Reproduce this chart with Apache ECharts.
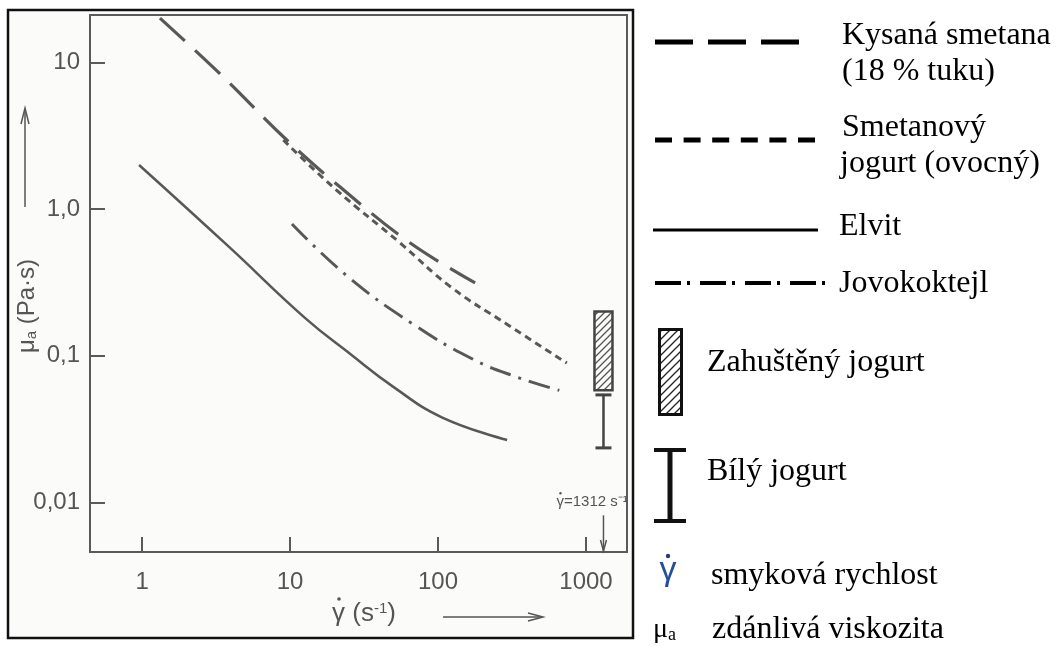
<!DOCTYPE html>
<html><head><meta charset="utf-8">
<script src="https://cdn.jsdelivr.net/npm/echarts@6/dist/echarts.min.js"></script>
<style>html,body{margin:0;padding:0;background:#fff}#c{width:1056px;height:646px}</style>
</head><body><div id="c"></div>
<script>
// ---- data ----
const xTickLabels = ['1', '10', '100', '1000'];      // 10^0 .. 10^3
const yTickLabels = ['0,01', '0,1', '1,0', '10'];    // 10^-2 .. 10^1
const kysanaX = [1.32, 3.42, 9.5, 21.8, 64.9, 178];
const kysanaY = [20, 8.2, 2.95, 1.41, 0.586, 0.313];
const smetanovyX = [9, 20.5, 55, 122, 297, 742];
const smetanovyY = [2.95, 1.35, 0.59, 0.294, 0.162, 0.089];
const elvitX = [0.954, 3.87, 12.6, 25.4, 49.6, 106, 293];
const elvitY = [1.995, 0.551, 0.181, 0.103, 0.0615, 0.038, 0.0266];
const jovoX = [10.3, 24.7, 69, 167, 338, 660];
const jovoY = [0.79, 0.344, 0.162, 0.096, 0.0716, 0.058];
const shearRate = 1312;
const zahustenyRange = [0.058, 0.2];
const bilyRange = [0.0235, 0.054];
const annotLevel = 0.01;

const pairs = (xs, ys) => xs.map((x, i) => [x, ys[i]]);
function tickLab(arr, v, firstExp) {
  const e = Math.round(Math.log10(v) * 1e6) / 1e6;
  if (!Number.isInteger(e)) return '';
  const s = arr[e - firstExp];
  return s === undefined ? '' : s;
}
function hatch(color, step, lw) {
  const c = document.createElement('canvas');
  c.width = step; c.height = step;
  const g = c.getContext('2d');
  g.strokeStyle = color; g.lineWidth = lw;
  g.beginPath();
  g.moveTo(0, step); g.lineTo(step, 0);
  g.moveTo(-2, 2); g.lineTo(2, -2);
  g.moveTo(step - 2, step + 2); g.lineTo(step + 2, step - 2);
  g.stroke();
  return { image: c, repeat: 'repeat' };
}
const hatchPlot = hatch('#555', 7, 1.3);
const hatchLegend = hatch('#222', 8, 1.3);

const axisCol = '#5a5a5a';
const lineCol = '#585858';
const sans = 'Liberation Sans';
const serif = 'Liberation Serif';

const chart = echarts.init(document.getElementById('c'), null, { renderer: 'canvas' });
chart.setOption({
  animation: false,
  backgroundColor: '#ffffff',
  grid: { left: 90, top: 15, width: 537, height: 537, show: true, borderColor: axisCol, borderWidth: 2, backgroundColor: 'transparent' },
  xAxis: {
    type: 'log', logBase: 10, min: 0.4446, max: 1892,
    axisLine: { show: true, lineStyle: { color: axisCol, width: 2 } },
    axisTick: { show: true, inside: true, length: 15, lineStyle: { color: axisCol, width: 2 } },
    minorTick: { show: false },
    splitLine: { show: false },
    axisLabel: { formatter: v => tickLab(xTickLabels, v, 0), margin: 18, fontSize: 24, fontFamily: sans, color: '#555' }
  },
  yAxis: {
    type: 'log', logBase: 10, min: 0.004585, max: 21.0,
    axisLine: { show: true, lineStyle: { color: axisCol, width: 2 } },
    axisTick: { show: true, inside: true, length: 15, lineStyle: { color: axisCol, width: 2 } },
    minorTick: { show: false },
    splitLine: { show: false },
    axisLabel: { formatter: v => tickLab(yTickLabels, v, -2), margin: 10, fontSize: 24, fontFamily: sans, color: '#555' }
  },
  series: [
    { type: 'line', name: 'Kysaná smetana', data: pairs(kysanaX, kysanaY), symbol: 'none', smooth: 0.4,
      lineStyle: { color: lineCol, width: 3.2, type: [34, 14] } },
    { type: 'line', name: 'Smetanový jogurt (ovocný)', data: pairs(smetanovyX, smetanovyY), symbol: 'none', smooth: 0.45,
      lineStyle: { color: lineCol, width: 3, type: [7, 5] } },
    { type: 'line', name: 'Elvit', data: pairs(elvitX, elvitY), symbol: 'none', smooth: 0.45,
      lineStyle: { color: lineCol, width: 2.5 } },
    { type: 'line', name: 'Jovokoktejl', data: pairs(jovoX, jovoY), symbol: 'none', smooth: 0.45,
      lineStyle: { color: lineCol, width: 3, type: [22, 8, 3, 8] } },
    { type: 'custom', name: 'Zahuštěný jogurt', encode: { x: 0, y: [1, 2] },
      data: [[shearRate, zahustenyRange[0], zahustenyRange[1]]],
      renderItem: (params, api) => {
        const top = api.coord([api.value(0), api.value(2)]);
        const bot = api.coord([api.value(0), api.value(1)]);
        const w = 18;
        return { type: 'rect', shape: { x: top[0] - w / 2, y: top[1], width: w, height: bot[1] - top[1] },
          style: { fill: hatchPlot, stroke: '#444', lineWidth: 2.5 } };
      } },
    { type: 'custom', name: 'Bílý jogurt', encode: { x: 0, y: [1, 2] },
      data: [[shearRate, bilyRange[0], bilyRange[1]]],
      renderItem: (params, api) => {
        const top = api.coord([api.value(0), api.value(2)]);
        const bot = api.coord([api.value(0), api.value(1)]);
        const w = 16;
        return { type: 'group', children: [
          { type: 'line', shape: { x1: top[0], y1: top[1], x2: bot[0], y2: bot[1] }, style: { stroke: '#444', lineWidth: 2.5 } },
          { type: 'line', shape: { x1: top[0] - w / 2, y1: top[1], x2: top[0] + w / 2, y2: top[1] }, style: { stroke: '#444', lineWidth: 3 } },
          { type: 'line', shape: { x1: bot[0] - w / 2, y1: bot[1], x2: bot[0] + w / 2, y2: bot[1] }, style: { stroke: '#444', lineWidth: 3 } }
        ] };
      } },
    { type: 'custom', name: 'annot', encode: { x: 0, y: 1 },
      data: [[shearRate, annotLevel]],
      renderItem: (params, api) => {
        const p = api.coord([api.value(0), api.value(1)]);
        const axisBottom = params.coordSys.y + params.coordSys.height;
        const tx = p[0] - 47;
        return { type: 'group', children: [
          { type: 'text', x: tx, y: p[1], style: { text: 'γ=' + api.value(0) + ' s⁻¹', fontSize: 15, fontFamily: sans, fill: '#555', align: 'left', verticalAlign: 'middle' } },
          { type: 'circle', shape: { cx: tx + 4, cy: p[1] - 9, r: 1.3 }, style: { fill: '#555' } },
          { type: 'line', shape: { x1: p[0], y1: p[1] + 13, x2: p[0], y2: axisBottom - 1 }, style: { stroke: '#555', lineWidth: 1.5 } },
          { type: 'polyline', shape: { points: [[p[0] - 3, axisBottom - 12], [p[0], axisBottom - 1], [p[0] + 3, axisBottom - 12]] }, style: { stroke: '#555', fill: null, lineWidth: 1.5 } }
        ] };
      } }
  ],
  graphic: [
    { type: 'rect', z: -10, shape: { x: 8, y: 10, width: 625, height: 628 }, style: { fill: '#fbfbf9', stroke: '#111', lineWidth: 2.5 } },
    // y axis title + arrow
    { type: 'text', x: 27, y: 306, rotation: Math.PI / 2,
      style: { text: 'μ{s|a} (Pa·s)', fontSize: 24, fontFamily: sans, fill: '#555', align: 'center', verticalAlign: 'middle',
        rich: { s: { fontSize: 15, fontFamily: sans, fill: '#555', verticalAlign: 'bottom' } } } },
    { type: 'line', shape: { x1: 25, y1: 207, x2: 25, y2: 109 }, style: { stroke: '#555', lineWidth: 1.5 } },
    { type: 'polyline', shape: { points: [[21, 124], [25, 108], [29, 124]] }, style: { stroke: '#555', fill: null, lineWidth: 1.5 } },
    // x axis title + arrow
    { type: 'text', x: 332, y: 614,
      style: { text: 'γ (s{p|-1})', fontSize: 26, fontFamily: sans, fill: '#555', align: 'left', verticalAlign: 'middle',
        rich: { p: { fontSize: 15, fontFamily: sans, fill: '#555', verticalAlign: 'top' } } } },
    { type: 'circle', shape: { cx: 339, cy: 599, r: 1.8 }, style: { fill: '#555' } },
    { type: 'line', shape: { x1: 443, y1: 617, x2: 542, y2: 617 }, style: { stroke: '#555', lineWidth: 1.5 } },
    { type: 'polyline', shape: { points: [[528, 613], [543, 617], [528, 621]] }, style: { stroke: '#555', fill: null, lineWidth: 1.5 } },

    // ---- legend ----
    { type: 'line', shape: { x1: 655, y1: 42, x2: 799, y2: 42 }, style: { stroke: '#000', lineWidth: 5, lineDash: [38, 15] } },
    { type: 'text', x: 842, y: 36, style: { text: 'Kysaná smetana', fontSize: 32, fontFamily: serif, fill: '#000', align: 'left', verticalAlign: 'middle' } },
    { type: 'text', x: 842, y: 72, style: { text: '(18 % tuku)', fontSize: 32, fontFamily: serif, fill: '#000', align: 'left', verticalAlign: 'middle' } },

    { type: 'line', shape: { x1: 655, y1: 140, x2: 815, y2: 140 }, style: { stroke: '#000', lineWidth: 5, lineDash: [17, 11.6] } },
    { type: 'text', x: 842, y: 128, style: { text: 'Smetanový', fontSize: 32, fontFamily: serif, fill: '#000', align: 'left', verticalAlign: 'middle' } },
    { type: 'text', x: 840, y: 164, style: { text: 'jogurt (ovocný)', fontSize: 32, fontFamily: serif, fill: '#000', align: 'left', verticalAlign: 'middle' } },

    { type: 'line', shape: { x1: 653, y1: 230, x2: 818, y2: 230 }, style: { stroke: '#000', lineWidth: 3 } },
    { type: 'text', x: 839, y: 227, style: { text: 'Elvit', fontSize: 32, fontFamily: serif, fill: '#000', align: 'left', verticalAlign: 'middle' } },

    { type: 'line', shape: { x1: 655, y1: 283, x2: 826, y2: 283 }, style: { stroke: '#000', lineWidth: 4, lineDash: [26, 6, 3, 10] } },
    { type: 'text', x: 839, y: 284, style: { text: 'Jovokoktejl', fontSize: 32, fontFamily: serif, fill: '#000', align: 'left', verticalAlign: 'middle' } },

    { type: 'rect', shape: { x: 659.5, y: 329.5, width: 22, height: 85 }, style: { fill: hatchLegend, stroke: '#111', lineWidth: 3 } },
    { type: 'text', x: 707, y: 363, style: { text: 'Zahuštěný jogurt', fontSize: 32, fontFamily: serif, fill: '#000', align: 'left', verticalAlign: 'middle' } },

    { type: 'line', shape: { x1: 670, y1: 449, x2: 670, y2: 522 }, style: { stroke: '#111', lineWidth: 5 } },
    { type: 'line', shape: { x1: 654, y1: 450, x2: 686, y2: 450 }, style: { stroke: '#111', lineWidth: 4 } },
    { type: 'line', shape: { x1: 654, y1: 521, x2: 686, y2: 521 }, style: { stroke: '#111', lineWidth: 4 } },
    { type: 'text', x: 707, y: 472, style: { text: 'Bílý jogurt', fontSize: 32, fontFamily: serif, fill: '#000', align: 'left', verticalAlign: 'middle' } },

    { type: 'text', x: 668, y: 571, style: { text: 'γ', fontSize: 34, fontFamily: sans, fill: '#24509a', align: 'center', verticalAlign: 'middle' } },
    { type: 'circle', shape: { cx: 668, cy: 556, r: 2.2 }, style: { fill: '#1d3f80' } },
    { type: 'text', x: 711, y: 576, style: { text: 'smyková rychlost', fontSize: 32, fontFamily: serif, fill: '#000', align: 'left', verticalAlign: 'middle' } },

    { type: 'text', x: 653, y: 630, style: { text: 'μ{s|a}', fontSize: 28, fontFamily: serif, fill: '#000', align: 'left', verticalAlign: 'middle',
        rich: { s: { fontSize: 18, fontFamily: serif, fill: '#000', verticalAlign: 'bottom' } } } },
    { type: 'text', x: 712, y: 630, style: { text: 'zdánlivá viskozita', fontSize: 32, fontFamily: serif, fill: '#000', align: 'left', verticalAlign: 'middle' } }
  ]
});
</script>
</body></html>
